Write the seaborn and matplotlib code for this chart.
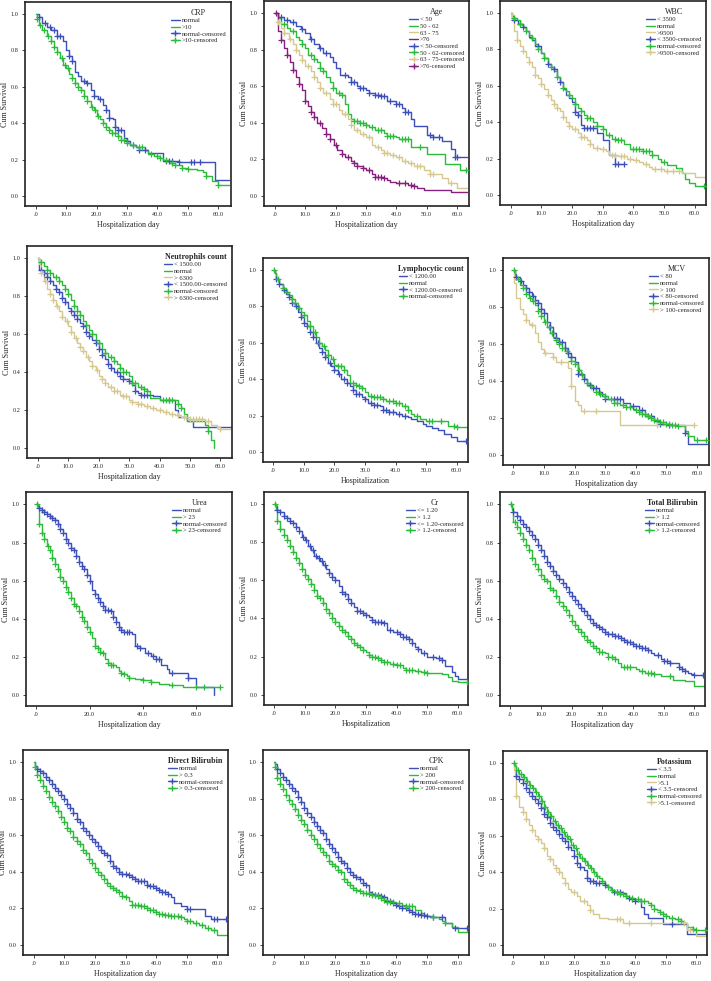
import numpy as np
import matplotlib
matplotlib.use("Agg")
import matplotlib.pyplot as plt
from matplotlib.lines import Line2D
import seaborn as sns

sns.set_style("ticks")
plt.rcParams["font.family"] = ["Liberation Serif", "DejaVu Serif"]

BLUE = "#3d4fb8"
GREEN = "#2dbb3c"
TAN = "#d6c88f"
PURPLE = "#86207f"

# ---- step curves: (day, cum survival) ; censored days ----
CRP_NORMAL = [(0, 1.0), (1, 0.98), (2, 0.95), (3.5, 0.93), (5, 0.91), (7, 0.88), (9, 0.85), (10, 0.80), (11, 0.77),
              (12, 0.74), (13, 0.68), (14, 0.66), (15, 0.63), (16.5, 0.62), (18, 0.58), (19, 0.55), (20.5, 0.53),
              (22, 0.50), (23, 0.47), (24, 0.43), (25.5, 0.42), (26, 0.38), (27, 0.36), (29, 0.32), (30, 0.30),
              (31, 0.28), (33, 0.27), (34, 0.25), (37, 0.235), (42, 0.19), (47, 0.185), (59, 0.09), (63.5, 0.09)]
CRP_NORMAL_C = [1, 3, 4.5, 6, 7, 8, 11, 12, 16, 17, 19, 21, 23, 24, 26, 27, 28, 30, 32, 34, 36, 43, 44, 45, 47, 51, 52, 54]
CRP_HIGH = [(0, 1.0), (0.5, 0.97), (1, 0.94), (2, 0.91), (3.5, 0.88), (5, 0.85), (6, 0.82), (7, 0.79), (8, 0.76),
            (9, 0.72), (10, 0.70), (11, 0.67), (12, 0.65), (13, 0.62), (14, 0.60), (15, 0.58), (16, 0.55), (17, 0.52),
            (18, 0.49), (19, 0.47), (20, 0.44), (21, 0.42), (22, 0.40), (23, 0.38), (24, 0.36), (25, 0.345),
            (27, 0.33), (28, 0.31), (30, 0.29), (31, 0.28), (33, 0.27), (36, 0.25), (37, 0.23), (39, 0.22),
            (41, 0.21), (42, 0.20), (44, 0.18), (46, 0.17), (48, 0.155), (50, 0.15), (53, 0.14), (55, 0.13),
            (56, 0.11), (58, 0.08), (60, 0.06), (63.5, 0.06)]
CRP_HIGH_C = [0.5, 1.5, 2.5, 4, 5, 6, 7, 8.5, 9.5, 10.5, 12, 13, 14, 15, 16, 17, 18.5, 19.5, 20.5, 22, 23, 24, 25, 26,
              27, 28, 29, 30, 32, 34, 35, 38, 40, 41, 43, 45, 46, 48, 50, 56, 60]

AGE_50 = [(0, 1.0), (1, 0.98), (3, 0.96), (5, 0.95), (7, 0.93), (8.5, 0.91), (10, 0.89), (11.5, 0.86), (13, 0.83),
          (14.5, 0.81), (16, 0.78), (18, 0.76), (19, 0.73), (20, 0.70), (21.5, 0.66), (24, 0.65), (25, 0.62),
          (27, 0.60), (28, 0.59), (30, 0.58), (31, 0.565), (33, 0.55), (35, 0.545), (37, 0.52), (40, 0.50),
          (42, 0.48), (43, 0.46), (45, 0.42), (46, 0.38), (50, 0.335), (52, 0.32), (55, 0.30), (58, 0.255),
          (59.5, 0.215), (63.5, 0.215)]
AGE_50_C = [2, 4, 6, 9, 12, 15, 17, 23, 25, 26, 28, 29, 31, 33, 34, 35, 36, 38, 40, 41, 43, 44, 51, 52, 54, 59.5, 60]
AGE_62 = [(0, 1.0), (1, 0.97), (2, 0.94), (4, 0.92), (5, 0.90), (7, 0.87), (8, 0.85), (9, 0.83), (10, 0.81),
          (11, 0.77), (13, 0.75), (14, 0.73), (15, 0.70), (16, 0.68), (17, 0.65), (18, 0.62), (19, 0.59),
          (20, 0.56), (22, 0.55), (23, 0.50), (24, 0.45), (25, 0.42), (26, 0.41), (28, 0.40), (30, 0.385),
          (31, 0.375), (33, 0.36), (36, 0.345), (37, 0.33), (40, 0.32), (41, 0.31), (45, 0.265), (50, 0.23),
          (56, 0.175), (61, 0.14), (63.5, 0.14)]
AGE_62_C = [3, 6, 9, 12, 13, 15, 16, 19, 21, 22, 26, 27, 28, 29, 30, 32, 34, 35, 37, 38, 39, 42, 43, 44, 48, 63]
AGE_75 = [(0, 1.0), (1, 0.95), (2, 0.92), (3, 0.89), (4.5, 0.86), (6, 0.83), (7, 0.80), (8, 0.77), (9, 0.74),
          (10, 0.71), (12, 0.68), (13, 0.65), (14, 0.62), (15, 0.59), (16, 0.56), (18, 0.53), (19, 0.50),
          (21, 0.47), (22, 0.45), (24, 0.42), (25, 0.39), (26, 0.36), (28, 0.34), (30, 0.32), (32, 0.28),
          (33, 0.27), (35, 0.25), (36, 0.235), (38, 0.225), (40, 0.215), (42, 0.19), (44, 0.18), (46, 0.165),
          (49, 0.14), (51, 0.12), (55, 0.10), (57, 0.07), (60, 0.045), (63.5, 0.045)]
AGE_75_C = [1, 3, 5, 7, 9, 11, 13, 15, 17, 19, 20, 23, 25, 27, 29, 31, 34, 36, 37, 39, 41, 43, 45, 47, 48, 51, 52, 58]
AGE_76 = [(0, 1.0), (1, 0.90), (2, 0.85), (3, 0.81), (4, 0.77), (5, 0.73), (6, 0.69), (7, 0.65), (8, 0.61),
          (9, 0.58), (10, 0.52), (11, 0.49), (12, 0.46), (13, 0.43), (14, 0.40), (15.5, 0.37), (17, 0.34),
          (18, 0.31), (19.5, 0.28), (20.5, 0.25), (22, 0.23), (23, 0.21), (25, 0.19), (26, 0.18), (27, 0.165),
          (29, 0.15), (30, 0.14), (32, 0.12), (33, 0.105), (36, 0.10), (37, 0.085), (38, 0.075), (40, 0.07),
          (44, 0.06), (46, 0.055), (47, 0.045), (49, 0.035), (58, 0.02), (63.5, 0.02)]
AGE_76_C = [0.5, 2, 4, 6, 8, 10, 12, 13, 15, 17, 18, 20, 22, 24, 26, 27, 29, 31, 33, 34, 35, 36, 41, 43, 45, 46]

WBC_LOW = [(0, 1.0), (0.5, 0.98), (1, 0.96), (2.5, 0.94), (4, 0.92), (5, 0.90), (6, 0.87), (7, 0.85), (8, 0.82),
           (10, 0.78), (11, 0.75), (12, 0.72), (13, 0.70), (14, 0.69), (15, 0.65), (16, 0.62), (17, 0.58),
           (18, 0.55), (19, 0.53), (20, 0.51), (21, 0.455), (22, 0.44), (23, 0.385), (24, 0.37), (28, 0.34),
           (30, 0.30), (32, 0.22), (34, 0.17), (37, 0.17)]
WBC_LOW_C = [1, 3, 4, 9, 12, 14, 16, 21, 22, 24, 25, 26, 27, 34, 35, 37]
WBC_NORMAL = [(0, 1.0), (0.5, 0.97), (2, 0.96), (3, 0.94), (4, 0.92), (5, 0.90), (6, 0.88), (7, 0.86), (8, 0.83),
              (9, 0.80), (10, 0.78), (11, 0.75), (12, 0.72), (13, 0.70), (14, 0.68), (15, 0.65), (16, 0.62),
              (17, 0.59), (18, 0.57), (19, 0.55), (20, 0.53), (21, 0.50), (22, 0.48), (23, 0.46), (24, 0.44),
              (25, 0.42), (27, 0.40), (28, 0.38), (30, 0.36), (31, 0.33), (33, 0.31), (35, 0.30), (37, 0.28),
              (39, 0.25), (43, 0.24), (46, 0.22), (48, 0.20), (49, 0.18), (51, 0.165), (54, 0.15), (56, 0.12),
              (57, 0.09), (58, 0.065), (60, 0.05), (63.5, 0.05)]
WBC_NORMAL_C = [1, 3, 5, 7, 9, 11, 13, 15, 17, 19, 21, 23, 25, 26, 28, 30, 32, 34, 35, 36, 40, 41, 42, 43, 44, 45,
                46, 50, 63]
WBC_HIGH = [(0, 1.0), (0.3, 0.96), (1, 0.90), (2, 0.85), (3, 0.82), (4, 0.79), (5, 0.76), (6, 0.73), (7, 0.70),
            (8, 0.66), (9, 0.64), (10, 0.61), (11, 0.58), (12, 0.55), (13, 0.52), (14, 0.50), (15, 0.48),
            (16, 0.46), (17, 0.43), (18, 0.40), (19, 0.38), (20, 0.36), (22, 0.34), (23, 0.32), (25, 0.30),
            (26, 0.28), (27, 0.26), (29, 0.25), (31, 0.24), (32, 0.22), (35, 0.215), (38, 0.20), (40, 0.19),
            (42, 0.18), (43, 0.17), (45, 0.155), (46, 0.14), (50, 0.13), (56, 0.12), (60, 0.10), (63.5, 0.10)]
WBC_HIGH_C = [2, 4, 6, 8, 10, 12, 14, 15, 17, 19, 21, 23, 24, 26, 28, 30, 33, 34, 36, 37, 39, 41, 44, 47, 49, 51,
              53, 55]

NEU_LOW = [(0, 1.0), (0.5, 0.94), (2, 0.92), (3, 0.90), (4, 0.88), (5, 0.86), (6, 0.84), (7, 0.82), (8, 0.79),
           (9, 0.77), (10, 0.74), (11, 0.72), (12, 0.70), (13, 0.68), (14, 0.66), (15, 0.64), (16, 0.61),
           (17, 0.59), (18, 0.57), (19, 0.55), (20, 0.52), (21, 0.49), (22, 0.47), (23, 0.44), (24, 0.42),
           (25, 0.40), (27, 0.38), (28, 0.36), (30, 0.35), (31, 0.33), (32, 0.30), (33, 0.29), (34, 0.28),
           (38, 0.27), (40, 0.25), (45, 0.20), (46, 0.16), (49, 0.14), (51, 0.11), (63.5, 0.11)]
NEU_LOW_C = [1, 2, 3, 4, 6, 7, 8, 9, 11, 12, 13, 15, 16, 17, 19, 20, 21, 23, 24, 26, 27, 28, 30, 32, 34, 35, 36, 43]
NEU_NORMAL = [(0, 1.0), (0.5, 0.98), (2, 0.96), (3, 0.94), (4, 0.92), (5, 0.90), (7, 0.88), (8, 0.86), (9, 0.84),
              (10, 0.81), (11, 0.78), (12, 0.75), (13, 0.72), (14, 0.70), (15, 0.67), (16, 0.65), (17, 0.62),
              (18, 0.60), (19, 0.57), (20, 0.55), (21, 0.52), (22, 0.50), (23, 0.48), (25, 0.46), (26, 0.44),
              (27, 0.42), (28, 0.40), (30, 0.38), (31, 0.34), (33, 0.32), (35, 0.31), (36, 0.30), (37, 0.26),
              (40, 0.25), (46, 0.23), (47, 0.21), (48, 0.18), (49, 0.14), (55, 0.12), (56, 0.09), (57, 0.04),
              (58, 0.0), (58, 0.0)]
NEU_NORMAL_C = [1, 3, 4, 6, 7, 9, 10, 12, 13, 14, 16, 18, 20, 22, 24, 25, 27, 28, 29, 31, 32, 34, 35, 36, 41, 42, 43,
                44, 46, 47, 56]
NEU_HIGH = [(0, 1.0), (0.3, 0.97), (1, 0.92), (2, 0.88), (3, 0.84), (4, 0.81), (5, 0.78), (6, 0.75), (7, 0.72),
            (8, 0.69), (9, 0.67), (10, 0.64), (11, 0.61), (12, 0.58), (13, 0.55), (14, 0.53), (15, 0.51),
            (16, 0.48), (17, 0.46), (18, 0.43), (19, 0.41), (20, 0.38), (21, 0.36), (22, 0.34), (23, 0.32),
            (25, 0.30), (27, 0.28), (28, 0.27), (30, 0.25), (31, 0.24), (33, 0.23), (35, 0.22), (37, 0.21),
            (39, 0.20), (41, 0.19), (43, 0.18), (45, 0.17), (47, 0.16), (50, 0.15), (55, 0.14), (57, 0.12),
            (59, 0.11), (60, 0.10), (63.5, 0.10)]
NEU_HIGH_C = [1, 2.5, 4, 5, 6.5, 8, 9.5, 11, 12.5, 14, 15, 16.5, 18, 19.5, 21, 22, 24, 25, 26, 28, 29, 31, 33, 34,
              36, 38, 40, 42, 44, 46, 48, 50, 51, 52, 53, 54, 56, 60]

LYM_LOW = [(0, 1.0), (0.5, 0.98), (1, 0.95), (2, 0.92), (3, 0.89), (4, 0.87), (5, 0.85), (6, 0.82), (7, 0.80),
           (8, 0.77), (9, 0.74), (10, 0.71), (11, 0.69), (12, 0.66), (13, 0.63), (14, 0.60), (15, 0.57),
           (16, 0.55), (17, 0.52), (18, 0.49), (19, 0.47), (20, 0.45), (21, 0.43), (22, 0.40), (24, 0.38),
           (25, 0.36), (26, 0.34), (27, 0.32), (29, 0.30), (30, 0.29), (31, 0.27), (33, 0.26), (35, 0.25),
           (36, 0.23), (38, 0.22), (40, 0.21), (42, 0.20), (44, 0.19), (45, 0.18), (47, 0.17), (49, 0.155),
           (50, 0.145), (52, 0.13), (54, 0.12), (56, 0.10), (58, 0.08), (60, 0.06), (63.5, 0.06)]
LYM_LOW_C = [1, 2, 3.5, 5, 6, 7.5, 9, 10, 11, 12, 13, 14.5, 16, 17, 18.5, 20, 21.5, 23, 24, 26, 27, 28, 30, 32, 33,
             34, 36, 37, 38, 39, 41, 43, 63]
LYM_NORMAL = [(0, 1.0), (0.5, 0.98), (1, 0.95), (2, 0.92), (3, 0.90), (4, 0.88), (5, 0.86), (6, 0.84), (7, 0.82),
              (8, 0.79), (9, 0.77), (10, 0.75), (11, 0.72), (12, 0.69), (13, 0.66), (14, 0.63), (15, 0.60),
              (16, 0.58), (17, 0.56), (18, 0.53), (19, 0.51), (20, 0.48), (21, 0.47), (23, 0.45), (24, 0.42),
              (25, 0.38), (27, 0.37), (28, 0.36), (29, 0.35), (30, 0.33), (31, 0.31), (33, 0.30), (36, 0.29),
              (37, 0.28), (40, 0.27), (42, 0.25), (44, 0.23), (45, 0.21), (46, 0.20), (48, 0.18), (50, 0.17),
              (57, 0.14), (60, 0.135), (63.5, 0.135)]
LYM_NORMAL_C = [0.3, 1.5, 3, 4.5, 6, 7, 8.5, 10, 12, 13.5, 15, 16.5, 18, 19.5, 21, 22, 23, 26, 27, 28, 29, 32, 33,
                34, 35, 36, 38, 39, 40, 41, 43, 44, 47, 51, 52, 55, 59, 60]

MCV_LOW = [(0, 1.0), (0.5, 0.98), (1, 0.96), (2, 0.94), (3, 0.92), (4, 0.90), (5, 0.88), (6, 0.86), (7, 0.84),
           (8, 0.82), (9, 0.79), (10, 0.77), (11, 0.72), (12, 0.69), (13, 0.66), (14, 0.63), (15, 0.61),
           (17, 0.58), (18, 0.55), (19, 0.53), (20, 0.50), (21, 0.44), (23, 0.41), (24, 0.38), (26, 0.36),
           (28, 0.34), (29, 0.32), (30, 0.30), (33, 0.30), (36, 0.28), (38, 0.265), (41, 0.24), (43, 0.21),
           (46, 0.185), (48, 0.165), (51, 0.16), (56, 0.12), (57, 0.06), (63.5, 0.06)]
MCV_LOW_C = [1, 2.5, 4, 5, 6.5, 8, 9, 10, 12, 13, 14, 15, 16, 17, 18, 19, 21, 23, 25, 26, 27, 28, 30, 33, 34, 35,
             39, 42, 44, 45, 47, 48, 51, 56]
MCV_NORMAL = [(0, 1.0), (0.5, 0.97), (1, 0.95), (2, 0.92), (3, 0.90), (4, 0.87), (5, 0.85), (6, 0.83), (7, 0.81),
              (8, 0.78), (9, 0.75), (10, 0.72), (11, 0.69), (12, 0.66), (13, 0.64), (14, 0.62), (15, 0.60),
              (16, 0.58), (17, 0.56), (18, 0.53), (19, 0.51), (20, 0.49), (21, 0.46), (22, 0.43), (23, 0.41),
              (24, 0.39), (25, 0.37), (26, 0.36), (27, 0.34), (28, 0.33), (30, 0.32), (31, 0.30), (33, 0.28),
              (35, 0.27), (37, 0.26), (39, 0.25), (40, 0.24), (41, 0.23), (42, 0.22), (44, 0.21), (45, 0.20),
              (46, 0.19), (48, 0.175), (50, 0.165), (52, 0.16), (54, 0.155), (56, 0.13), (57, 0.10), (59, 0.08),
              (63.5, 0.08)]
MCV_NORMAL_C = [0.3, 1.5, 3, 4, 5.5, 6.5, 8, 9, 10.5, 11.5, 12.5, 14, 15, 16, 17.5, 19, 20, 21.5, 22.5, 24, 25.5, 27,
                28.5, 30, 32, 33, 34, 36, 37, 38, 40, 41, 42, 43, 44, 45, 46, 47, 48, 49, 50, 51, 52, 53, 54, 60, 63]
MCV_HIGH = [(0, 1.0), (0.3, 0.93), (1, 0.85), (2, 0.79), (3, 0.76), (4, 0.73), (5, 0.71), (6, 0.70), (7, 0.66),
            (8, 0.61), (9, 0.57), (10, 0.55), (13, 0.53), (14, 0.50), (17, 0.50), (18, 0.47), (19, 0.37),
            (20, 0.29), (21, 0.27), (22, 0.235), (35, 0.16), (59, 0.16)]
MCV_HIGH_C = [4, 6, 10.5, 13, 15.5, 19, 23, 27, 47, 59]

UREA_NORMAL = [(0, 1.0), (0.5, 0.99), (1, 0.98), (2, 0.97), (3, 0.96), (4, 0.95), (5, 0.94), (6, 0.93), (7, 0.92),
               (8, 0.90), (9, 0.87), (10, 0.85), (11, 0.82), (12, 0.80), (13, 0.77), (14, 0.76), (15, 0.73),
               (16, 0.70), (17, 0.68), (18, 0.66), (19, 0.63), (20, 0.60), (21, 0.55), (22, 0.53), (23, 0.51),
               (24, 0.49), (25, 0.47), (26, 0.445), (28, 0.44), (29, 0.41), (30, 0.385), (31, 0.36), (32, 0.345),
               (33, 0.33), (36, 0.32), (37, 0.26), (39, 0.25), (41, 0.22), (43, 0.205), (45, 0.19), (47, 0.16),
               (49, 0.14), (50, 0.12), (53, 0.12), (57, 0.09), (60, 0.045), (67, 0.0), (67, 0.0)]
UREA_NORMAL_C = [1, 2, 3, 4, 5, 6, 7, 8, 9, 10, 11, 12, 13, 14, 15, 16, 17, 18, 19, 20, 22, 23, 24, 25, 26, 27, 28,
                 29, 30, 31, 32, 33, 34, 35, 38, 39, 42, 44, 45, 46, 51, 57]
UREA_HIGH = [(0, 1.0), (0.5, 0.98), (1, 0.90), (2, 0.85), (3, 0.82), (4, 0.78), (5, 0.76), (6, 0.72), (7, 0.69),
             (8, 0.66), (9, 0.62), (10, 0.60), (11, 0.57), (12, 0.54), (13, 0.51), (14, 0.48), (15, 0.47),
             (16, 0.44), (17, 0.41), (18, 0.39), (19, 0.36), (20, 0.33), (21, 0.30), (22, 0.26), (23, 0.25),
             (24, 0.23), (25, 0.22), (26, 0.19), (27, 0.17), (28, 0.16), (30, 0.15), (31, 0.13), (32, 0.12),
             (33, 0.11), (34, 0.10), (35, 0.09), (37, 0.085), (40, 0.08), (43, 0.07), (46, 0.06), (50, 0.055),
             (55, 0.045), (69, 0.045)]
UREA_HIGH_C = [0.3, 1, 2, 3, 4.5, 5, 6, 7, 8, 9, 10, 11, 12, 13, 14, 15, 16, 17, 18, 19, 20, 22, 23, 24, 25, 27, 28,
               29, 32, 33, 35, 40, 43, 51, 60, 63, 69]

CR_LOW = [(0, 1.0), (0.5, 0.99), (1, 0.97), (2, 0.96), (3, 0.94), (4, 0.93), (5, 0.91), (6, 0.90), (7, 0.88),
          (8, 0.86), (9, 0.83), (10, 0.81), (11, 0.78), (12, 0.76), (13, 0.73), (14, 0.72), (15, 0.70), (16, 0.68),
          (17, 0.66), (18, 0.64), (19, 0.62), (20, 0.60), (21, 0.57), (22, 0.54), (23, 0.53), (24, 0.50),
          (25, 0.48), (26, 0.46), (27, 0.44), (29, 0.43), (30, 0.42), (31, 0.41), (32, 0.39), (33, 0.38),
          (36, 0.375), (37, 0.34), (39, 0.33), (41, 0.32), (42, 0.30), (44, 0.29), (45, 0.27), (46, 0.25),
          (47, 0.24), (48, 0.22), (50, 0.20), (53, 0.19), (55, 0.18), (56, 0.15), (58, 0.12), (59, 0.10),
          (60, 0.08), (63.5, 0.08)]
CR_LOW_C = [1, 2, 3, 4, 5, 6, 7, 8, 9.5, 10.5, 11.5, 12.5, 13.5, 14.5, 15.5, 16.5, 18, 19, 20, 22, 23, 24, 25, 27,
            28, 29, 30, 32, 33, 34, 35, 36, 38, 40, 41, 42, 43, 44, 45, 47, 49, 52, 54, 55]
CR_HIGH = [(0, 1.0), (0.5, 0.97), (1, 0.91), (2, 0.87), (3, 0.84), (4, 0.81), (5, 0.78), (6, 0.75), (7, 0.72),
           (8, 0.69), (9, 0.66), (10, 0.63), (11, 0.61), (12, 0.58), (13, 0.55), (14, 0.52), (15, 0.51),
           (16, 0.48), (17, 0.45), (18, 0.43), (19, 0.40), (20, 0.38), (21, 0.36), (22, 0.34), (23, 0.33),
           (24, 0.31), (25, 0.29), (26, 0.27), (27, 0.26), (28, 0.25), (29, 0.235), (30, 0.225), (31, 0.21),
           (32, 0.195), (34, 0.19), (35, 0.18), (36, 0.17), (38, 0.16), (40, 0.155), (42, 0.14), (43, 0.13),
           (46, 0.125), (48, 0.12), (50, 0.115), (55, 0.11), (57, 0.09), (58, 0.07), (60, 0.065), (63.5, 0.065)]
CR_HIGH_C = [0.3, 1, 2, 3, 4, 5, 6, 7, 8, 9, 10, 11, 12, 13, 14, 15, 16, 17, 18, 19, 20, 21, 22, 23, 24, 25, 26, 27,
             28, 29, 31, 32, 33, 34, 35, 36, 37, 39, 40, 41, 43, 44, 45, 47, 49, 50, 63]

TBIL_NORMAL = [(0, 1.0), (0.5, 0.98), (1, 0.96), (2, 0.94), (3, 0.92), (4, 0.90), (5, 0.88), (6, 0.86), (7, 0.84),
               (8, 0.82), (9, 0.79), (10, 0.76), (11, 0.73), (12, 0.70), (13, 0.68), (14, 0.65), (15, 0.63),
               (16, 0.61), (17, 0.59), (18, 0.57), (19, 0.54), (20, 0.52), (21, 0.50), (22, 0.48), (23, 0.46),
               (24, 0.44), (25, 0.42), (26, 0.40), (27, 0.38), (28, 0.37), (29, 0.36), (30, 0.35), (31, 0.33),
               (32, 0.32), (34, 0.31), (36, 0.30), (37, 0.29), (38, 0.28), (40, 0.27), (41, 0.26), (43, 0.25),
               (45, 0.24), (46, 0.22), (47, 0.21), (49, 0.19), (50, 0.18), (52, 0.17), (55, 0.15), (56, 0.14),
               (57, 0.13), (58, 0.12), (59, 0.11), (60, 0.105), (63.5, 0.105)]
TBIL_NORMAL_C = [1, 2, 3, 4, 5, 6, 7, 8, 9, 10, 11, 12, 13, 14, 15, 16, 17, 18, 19, 20, 21, 22, 23, 24, 25, 26, 27,
                 28, 29, 30, 31, 32, 33, 34, 35, 36, 37, 38, 39, 40, 41, 42, 43, 44, 45, 48, 50, 51, 52, 55, 56, 57,
                 60, 63]
TBIL_HIGH = [(0, 1.0), (0.5, 0.97), (1, 0.91), (2, 0.88), (3, 0.85), (4, 0.82), (5, 0.79), (6, 0.76), (7, 0.72),
             (8, 0.69), (9, 0.66), (10, 0.63), (11, 0.61), (12, 0.60), (13, 0.56), (14, 0.55), (15, 0.52),
             (16, 0.49), (17, 0.47), (18, 0.45), (19, 0.42), (20, 0.39), (21, 0.37), (22, 0.35), (23, 0.33),
             (24, 0.31), (25, 0.29), (26, 0.28), (27, 0.26), (28, 0.25), (29, 0.23), (31, 0.22), (32, 0.20),
             (34, 0.19), (35, 0.17), (36, 0.15), (41, 0.14), (42, 0.13), (44, 0.12), (47, 0.115), (49, 0.10),
             (53, 0.08), (57, 0.075), (60, 0.05), (63.5, 0.05)]
TBIL_HIGH_C = [0.3, 1.5, 2, 3, 4, 5, 6, 7, 8, 9, 10, 11, 12, 13, 14, 15, 16, 17, 18, 19, 20, 21, 22, 23, 24, 25, 26,
               27, 28, 29, 30, 32, 33, 34, 37, 38, 39, 43, 45, 46, 47, 52]

DBIL_NORMAL = [(0, 1.0), (0.5, 0.98), (1, 0.96), (2, 0.95), (3, 0.94), (4, 0.92), (5, 0.90), (6, 0.88), (7, 0.86),
               (8, 0.84), (9, 0.82), (10, 0.80), (11, 0.77), (12, 0.75), (13, 0.72), (14, 0.69), (15, 0.67),
               (16, 0.64), (17, 0.62), (18, 0.60), (19, 0.58), (20, 0.56), (21, 0.54), (22, 0.52), (23, 0.50),
               (24, 0.49), (25, 0.46), (26, 0.43), (27, 0.42), (28, 0.40), (29, 0.39), (31, 0.38), (32, 0.37),
               (33, 0.36), (34, 0.35), (37, 0.33), (38, 0.32), (40, 0.31), (41, 0.30), (42, 0.29), (44, 0.28),
               (45, 0.26), (46, 0.23), (48, 0.21), (50, 0.195), (56, 0.16), (58, 0.14), (63.5, 0.14)]
DBIL_NORMAL_C = [1, 2, 3, 4, 5, 6, 7, 8, 9, 10, 11, 12, 13, 14, 15, 16, 17, 18, 19, 20, 21, 22, 23, 24, 25, 26, 27,
                 28, 29, 30, 31, 32, 33, 34, 35, 36, 37, 38, 39, 40, 41, 42, 43, 44, 50, 51, 59, 60, 63]
DBIL_HIGH = [(0, 1.0), (0.3, 0.97), (1, 0.93), (2, 0.90), (3, 0.87), (4, 0.84), (5, 0.81), (6, 0.78), (7, 0.76),
             (8, 0.73), (9, 0.70), (10, 0.67), (11, 0.64), (12, 0.62), (13, 0.59), (14, 0.57), (15, 0.55),
             (16, 0.52), (17, 0.50), (18, 0.47), (19, 0.45), (20, 0.42), (21, 0.40), (22, 0.38), (23, 0.36),
             (24, 0.34), (25, 0.32), (26, 0.31), (27, 0.30), (28, 0.29), (29, 0.27), (30, 0.26), (31, 0.24),
             (32, 0.22), (35, 0.215), (37, 0.20), (38, 0.19), (40, 0.18), (41, 0.17), (43, 0.165), (45, 0.16),
             (48, 0.155), (49, 0.14), (50, 0.13), (52, 0.12), (54, 0.11), (56, 0.095), (58, 0.08), (60, 0.055),
             (63.5, 0.055)]
DBIL_HIGH_C = [0.3, 1, 2, 3, 4, 5, 6, 7, 8, 9, 10, 11, 12, 13, 14, 15, 16, 17, 18, 19, 20, 21, 22, 23, 24, 25, 26,
               27, 28, 29, 30, 32, 33, 34, 35, 36, 37, 38, 39, 40, 41, 42, 43, 44, 45, 46, 47, 48, 50, 51, 53, 55,
               57, 59]

CPK_NORMAL = [(0, 1.0), (0.5, 0.99), (1, 0.96), (2, 0.94), (3, 0.92), (4, 0.90), (5, 0.88), (6, 0.86), (7, 0.84),
              (8, 0.81), (9, 0.78), (10, 0.75), (11, 0.72), (12, 0.70), (13, 0.67), (14, 0.65), (15, 0.63),
              (16, 0.61), (17, 0.58), (18, 0.55), (19, 0.53), (20, 0.51), (21, 0.48), (22, 0.46), (23, 0.45),
              (24, 0.42), (25, 0.40), (26, 0.38), (27, 0.37), (28, 0.36), (29, 0.34), (30, 0.33), (31, 0.29),
              (32, 0.28), (33, 0.275), (35, 0.27), (36, 0.26), (37, 0.24), (39, 0.23), (40, 0.22), (41, 0.21),
              (42, 0.20), (44, 0.19), (45, 0.18), (46, 0.17), (48, 0.165), (50, 0.16), (51, 0.15), (54, 0.15),
              (56, 0.12), (58, 0.10), (59, 0.095), (63.5, 0.095)]
CPK_NORMAL_C = [1, 2, 3, 4, 5, 6, 7, 8, 9, 10, 11, 12, 13, 14, 15, 16, 17, 18, 19, 20, 21, 22, 23, 24, 25, 26, 27,
                28, 29, 30, 32, 33, 34, 35, 36, 37, 38, 39, 40, 41, 42, 43, 44, 45, 46, 47, 48, 49, 50, 52, 55, 59,
                63]
CPK_HIGH = [(0, 1.0), (0.3, 0.97), (1, 0.91), (2, 0.88), (3, 0.85), (4, 0.82), (5, 0.79), (6, 0.77), (7, 0.74),
            (8, 0.71), (9, 0.68), (10, 0.66), (11, 0.63), (12, 0.60), (13, 0.58), (14, 0.55), (15, 0.53),
            (16, 0.51), (17, 0.49), (18, 0.46), (19, 0.44), (20, 0.43), (21, 0.41), (22, 0.40), (23, 0.36),
            (24, 0.345), (25, 0.33), (26, 0.31), (27, 0.30), (28, 0.295), (29, 0.285), (31, 0.28), (32, 0.275),
            (34, 0.265), (35, 0.255), (36, 0.245), (37, 0.235), (40, 0.23), (42, 0.22), (43, 0.215), (45, 0.21),
            (46, 0.19), (48, 0.175), (49, 0.16), (52, 0.15), (54, 0.14), (55, 0.13), (56, 0.12), (58, 0.10),
            (60, 0.07), (63.5, 0.07)]
CPK_HIGH_C = [0.3, 1, 2, 3, 4, 5, 6, 7, 8, 9, 10, 11, 12, 13, 14, 15, 16, 17, 18, 19, 20, 21, 22, 23, 24, 25, 26, 27,
              28, 29, 30, 31, 32, 33, 34, 35, 36, 37, 38, 39, 41, 43, 44, 45, 52, 56]

K_LOW = [(0, 1.0), (0.5, 0.98), (1, 0.93), (2, 0.91), (3, 0.89), (4, 0.86), (5, 0.84), (6, 0.82), (7, 0.80),
         (8, 0.78), (9, 0.75), (10, 0.72), (11, 0.70), (12, 0.67), (13, 0.65), (14, 0.63), (15, 0.61), (16, 0.59),
         (17, 0.57), (18, 0.54), (19, 0.52), (20, 0.49), (21, 0.45), (22, 0.43), (23, 0.41), (24, 0.37),
         (25, 0.35), (27, 0.34), (30, 0.33), (31, 0.32), (32, 0.30), (33, 0.29), (36, 0.285), (37, 0.26),
         (39, 0.25), (40, 0.24), (42, 0.21), (43, 0.17), (44, 0.15), (49, 0.115), (56, 0.115), (57, 0.06),
         (63.5, 0.06)]
K_LOW_C = [1, 2, 3, 4, 5, 6, 7, 8, 9, 10, 11, 12, 13, 14, 15, 16, 17, 18, 20, 21, 22, 24, 25, 26, 27, 28, 30, 33, 34,
           35, 38, 39, 40, 52]
K_NORMAL = [(0, 1.0), (0.5, 0.98), (1, 0.96), (2, 0.94), (3, 0.92), (4, 0.90), (5, 0.88), (6, 0.86), (7, 0.84),
            (8, 0.82), (9, 0.79), (10, 0.76), (11, 0.73), (12, 0.71), (13, 0.68), (14, 0.66), (15, 0.64),
            (16, 0.62), (17, 0.60), (18, 0.58), (19, 0.55), (20, 0.53), (21, 0.50), (22, 0.48), (23, 0.46),
            (24, 0.44), (25, 0.42), (26, 0.40), (27, 0.38), (28, 0.37), (29, 0.35), (30, 0.33), (31, 0.32),
            (32, 0.30), (33, 0.29), (35, 0.28), (37, 0.27), (38, 0.26), (40, 0.25), (42, 0.24), (44, 0.23),
            (45, 0.22), (46, 0.20), (47, 0.19), (48, 0.18), (49, 0.17), (50, 0.16), (51, 0.15), (53, 0.14),
            (55, 0.13), (56, 0.12), (57, 0.10), (59, 0.09), (60, 0.08), (63.5, 0.08)]
K_NORMAL_C = [0.3, 1.5, 2.5, 3.5, 4.5, 5.5, 6.5, 7.5, 8.5, 9.5, 10.5, 11.5, 12.5, 13.5, 14.5, 15.5, 16.5, 17.5, 18.5,
              19.5, 20.5, 21.5, 22.5, 23.5, 24.5, 25.5, 26.5, 27.5, 29, 31, 32.5, 34, 35, 36, 37, 39, 41, 42, 43, 45,
              46, 48, 49, 50, 52, 54, 55, 59, 60, 63]
K_HIGH = [(0, 1.0), (0.2, 0.96), (0.5, 0.92), (1, 0.82), (2, 0.76), (3, 0.73), (4, 0.69), (5, 0.66), (6, 0.63),
          (7, 0.60), (8, 0.58), (9, 0.56), (10, 0.53), (11, 0.49), (12, 0.47), (13, 0.44), (14, 0.42), (15, 0.40),
          (16, 0.37), (17, 0.34), (18, 0.31), (19, 0.29), (21, 0.27), (22, 0.24), (24, 0.22), (25, 0.19),
          (26, 0.17), (28, 0.15), (31, 0.14), (36, 0.12), (56, 0.12), (57, 0.08), (60, 0.05), (63.5, 0.05)]
K_HIGH_C = [1, 3, 4, 6, 8, 10, 12, 14, 15, 17, 20, 23, 25, 34, 35, 38, 45, 56, 58]

# panel: title, bold title, xlabel, x ticks, xlim, curves (label, color, steps, censored)
PANELS = [
    ("CRP", False, "Hospitalization day", [0, 10, 20, 30, 40, 50, 60], (-3.6, 64.3),
     [("normal", BLUE, CRP_NORMAL, CRP_NORMAL_C), (">10", GREEN, CRP_HIGH, CRP_HIGH_C)]),
    ("Age", False, "Hospitalization day", [0, 10, 20, 30, 40, 50, 60], (-3.6, 64.0),
     [("< 50", BLUE, AGE_50, AGE_50_C), ("50 - 62", GREEN, AGE_62, AGE_62_C),
      ("63 - 75", TAN, AGE_75, AGE_75_C), (">76", PURPLE, AGE_76, AGE_76_C)]),
    ("WBC", False, "Hospitalization day", [0, 10, 20, 30, 40, 50, 60], (-3.5, 63.7),
     [("< 3500", BLUE, WBC_LOW, WBC_LOW_C), ("normal", GREEN, WBC_NORMAL, WBC_NORMAL_C),
      (">9500", TAN, WBC_HIGH, WBC_HIGH_C)]),
    ("Neutrophils count", True, "Hospitalization day", [0, 10, 20, 30, 40, 50, 60], (-3.5, 63.8),
     [("< 1500.00", BLUE, NEU_LOW, NEU_LOW_C), ("normal", GREEN, NEU_NORMAL, NEU_NORMAL_C),
      ("> 6300", TAN, NEU_HIGH, NEU_HIGH_C)]),
    ("Lymphocytic count", True, "Hospitalization", [0, 10, 20, 30, 40, 50, 60], (-3.4, 63.7),
     [("< 1200.00", BLUE, LYM_LOW, LYM_LOW_C), ("normal", GREEN, LYM_NORMAL, LYM_NORMAL_C)]),
    ("MCV", False, "Hospitalization day", [0, 10, 20, 30, 40, 50, 60], (-3.4, 64.0),
     [("< 80", BLUE, MCV_LOW, MCV_LOW_C), ("normal", GREEN, MCV_NORMAL, MCV_NORMAL_C),
      ("> 100", TAN, MCV_HIGH, MCV_HIGH_C)]),
    ("Urea", False, "Hospitalization day", [0, 20, 40, 60], (-3.9, 73.6),
     [("normal", BLUE, UREA_NORMAL, UREA_NORMAL_C), ("> 23", GREEN, UREA_HIGH, UREA_HIGH_C)]),
    ("Cr", False, "Hospitalization", [0, 10, 20, 30, 40, 50, 60], (-3.4, 63.4),
     [("<= 1.20", BLUE, CR_LOW, CR_LOW_C), ("> 1.2", GREEN, CR_HIGH, CR_HIGH_C)]),
    ("Total Bilirubin", True, "Hospitalization day", [0, 10, 20, 30, 40, 50, 60], (-3.4, 63.5),
     [("normal", BLUE, TBIL_NORMAL, TBIL_NORMAL_C), ("> 1.2", GREEN, TBIL_HIGH, TBIL_HIGH_C)]),
    ("Direct Bilirubin", True, "Hospitalization day", [0, 10, 20, 30, 40, 50, 60], (-3.5, 63.5),
     [("normal", BLUE, DBIL_NORMAL, DBIL_NORMAL_C), ("> 0.3", GREEN, DBIL_HIGH, DBIL_HIGH_C)]),
    ("CPK", False, "Hospitalization day", [0, 10, 20, 30, 40, 50, 60], (-3.5, 63.7),
     [("normal", BLUE, CPK_NORMAL, CPK_NORMAL_C), ("> 200", GREEN, CPK_HIGH, CPK_HIGH_C)]),
    ("Potassium", True, "Hospitalization day", [0, 10, 20, 30, 40, 50, 60], (-3.4, 63.5),
     [("< 3.5", BLUE, K_LOW, K_LOW_C), ("normal", GREEN, K_NORMAL, K_NORMAL_C),
      (">5.1", TAN, K_HIGH, K_HIGH_C)]),
]

# axes boxes in pixels: left, top, right, bottom
BOXES = [(25, 2, 231, 206), (264, 1, 469, 206), (500, 1, 706, 205),
         (27, 246, 232, 458), (263, 258, 468, 462), (503, 258, 709, 465),
         (26, 492, 232, 706), (264, 492, 468, 705), (500, 492, 705, 706),
         (23, 750, 228, 955), (263, 750, 469, 955), (503, 751, 707, 955)]

W, H = 711, 981
fig = plt.figure(figsize=(W / 100, H / 100), dpi=100)


def censor_y(steps, times):
    t = np.array([p[0] for p in steps])
    s = np.array([p[1] for p in steps])
    idx = np.searchsorted(t, times, side="right") - 1
    return s[idx]


for (title, bold, xlabel, xticks, xlim, curves), (l, t, r, b) in zip(PANELS, BOXES):
    ax = fig.add_axes([l / W, 1 - b / H, (r - l) / W, (b - t) / H])
    handles, labels = [], []
    for lab, col, steps, cens in curves:
        sns.lineplot(x=[p[0] for p in steps], y=[p[1] for p in steps], drawstyle="steps-post",
                     color=col, lw=1.0, sort=False, estimator=None, ax=ax)
        sns.scatterplot(x=cens, y=censor_y(steps, cens), marker="+", s=22, color=col,
                        linewidth=0.9, ax=ax, zorder=3)
        handles.append(Line2D([], [], color=col, lw=1.0))
        labels.append(lab)
    for lab, col, steps, cens in curves:
        handles.append(Line2D([], [], color=col, lw=1.0, marker="+", markersize=5, markeredgewidth=1.0))
        labels.append(lab + "-censored")

    ax.set_xlim(*xlim)
    ax.set_ylim(-0.055, 1.065)
    ax.set_xticks(xticks)
    ax.set_xticklabels([".0" if v == 0 else f"{v:.1f}" for v in xticks])
    ax.set_yticks([0, 0.2, 0.4, 0.6, 0.8, 1.0])
    ax.set_yticklabels(["0.0", "0.2", "0.4", "0.6", "0.8", "1.0"])
    ax.tick_params(labelsize=4.5, length=2.5, width=0.6, pad=2)
    for sp in ax.spines.values():
        sp.set_visible(True)
        sp.set_linewidth(1.2)
        sp.set_color("#222222")
    ax.set_xlabel(xlabel, fontsize=5.8, labelpad=3)
    ax.set_ylabel("Cum Survival", fontsize=5.8, labelpad=1)
    leg = ax.legend(handles, labels, title=title, loc="upper right", bbox_to_anchor=(1.0, 0.99),
                    frameon=False, fontsize=4.8, title_fontsize=5.8, handlelength=1.3,
                    handletextpad=0.3, labelspacing=0.15, borderaxespad=0.3)
    if bold:
        leg.get_title().set_fontweight("bold")

fig.savefig("out.png", dpi=100)
